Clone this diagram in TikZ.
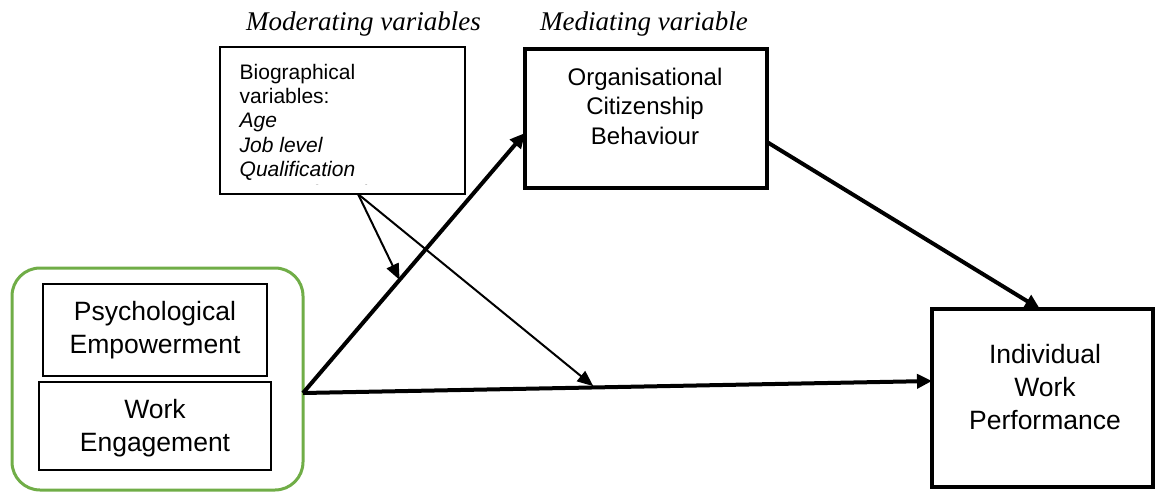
\documentclass[tikz,border=0pt]{standalone}
\usepackage{fontspec}
\setmainfont{Liberation Serif}
\setsansfont{Liberation Sans}
\usetikzlibrary{arrows.meta,calc}
\definecolor{grpgreen}{RGB}{112,173,71}
\begin{document}
\begin{tikzpicture}[x=1pt,y=-1pt,
  box/.style={draw, rectangle, inner sep=0pt, outer sep=0pt},
  thinbox/.style={box, line width=2.2pt},
  heavybox/.style={box, line width=4pt},
  bigtext/.style={anchor=north, inner sep=0pt, align=center,
    font=\sffamily\fontsize{26.5}{33}\selectfont,
    execute at begin node={\rule{0pt}{22pt}}},
  midtext/.style={anchor=north, inner sep=0pt, align=center,
    font=\sffamily\fontsize{24}{29.5}\selectfont,
    execute at begin node={\rule{0pt}{22pt}}},
  smalltext/.style={anchor=north west, inner sep=0pt, align=left,
    font=\sffamily\fontsize{21}{24.2}\selectfont,
    execute at begin node={\rule{0pt}{18pt}}},
  heading/.style={anchor=base, inner sep=0pt,
    font=\itshape\fontsize{27}{30}\selectfont},
  heavyarrow/.style={line width=4pt, -{Triangle[length=15pt,width=14pt]}},
  lightarrow/.style={line width=2pt, -{Triangle[length=16pt,width=13pt]}}
]
\useasboundingbox (0,0) rectangle (1156,493);

% headings
\node[heading] (hmod) at (363.5,30) {Moderating variables};
\node[heading] (hmed) at (644,30) {Mediating variable};

% moderating variables box, last line cut off by the frame
\node[thinbox, minimum width=245pt, minimum height=147pt] (mod) at (342.5,120.5) {};
\begin{scope}
  \clip (220,47) rectangle (465,184);
  \node[smalltext] (modt) at (239.5,64) {Biographical\\variables:\\\textit{Age}\\\textit{Job level}\\\textit{Qualification}\\\textit{Years of service}};
\end{scope}

% mediating variable box
\node[heavybox, minimum width=242pt, minimum height=139pt] (ocb) at (646,118.5) {};
\node[midtext] (ocbt) at (645,67.5) {Organisational\\Citizenship\\Behaviour};

% independent variables group
\node[box, draw=grpgreen, line width=3pt, rounded corners=28pt,
      minimum width=291pt, minimum height=222pt] (grp) at (157.5,379) {};
\node[thinbox, minimum width=224pt, minimum height=92pt] (pe) at (155,330) {};
\node[bigtext] (pet) at (155,301) {Psychological\\Empowerment};
\node[thinbox, minimum width=232pt, minimum height=88pt] (we) at (155,426) {};
\node[bigtext] (wet) at (155,398.7) {Work\\Engagement};

% outcome box
\node[heavybox, minimum width=221pt, minimum height=178pt] (iwp) at (1042.5,398) {};
\node[bigtext] (iwpt) at (1045,343.7) {Individual\\Work\\Performance};

% connectors
\coordinate (src) at ([yshift=-14pt]grp.east);
\draw[heavyarrow] (src) -- coordinate[pos=0.435] (onmed) ([yshift=-14.5pt]ocb.west);
\draw[heavyarrow] (src) -- coordinate[pos=0.464] (ondir) ([yshift=17pt]iwp.west);
\draw[heavyarrow] ([yshift=-23.5pt]ocb.east) -- ([xshift=-2.5pt]iwp.north);
\coordinate (modout) at ([xshift=15.5pt]mod.south);
\draw[lightarrow] (modout) -- (onmed);
\draw[lightarrow, shorten >=2pt] (modout) -- (ondir);
\end{tikzpicture}
\end{document}
